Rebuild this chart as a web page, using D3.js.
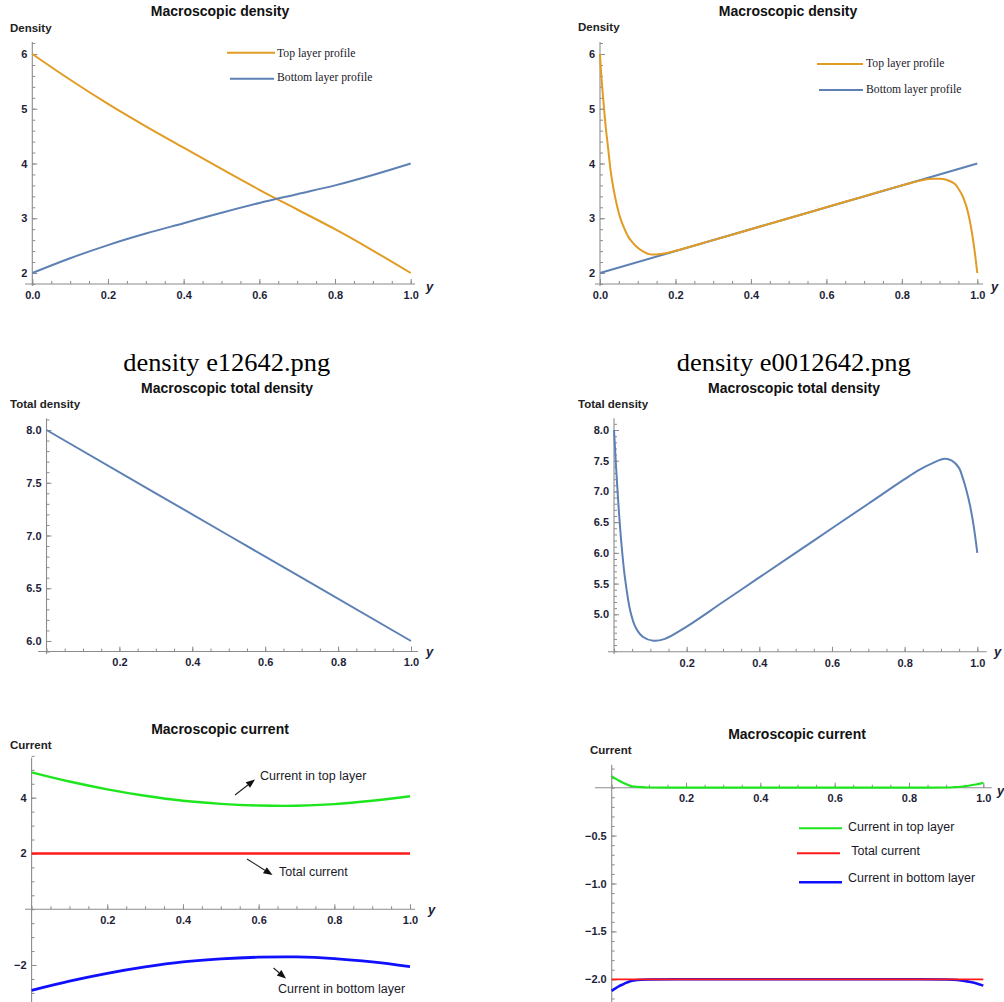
<!DOCTYPE html>
<html><head><meta charset="utf-8">
<script src="https://cdn.jsdelivr.net/npm/d3@7"></script>
<style>body{margin:0;background:#fff}svg{display:block}</style>
</head><body>
<svg id="c" width="1004" height="1002"></svg>
<script>
// ---------- DATA ----------
// Panel A: Macroscopic density (e12642)
const xDensityA = [0, 0.1, 0.2, 0.3, 0.4, 0.5, 0.6, 0.7, 0.8, 0.9, 1.0];
const topDensityA = [6.0, 5.53, 5.09, 4.68, 4.29, 3.90, 3.52, 3.16, 2.80, 2.41, 2.0];
const bottomDensityA = [2.0, 2.27, 2.51, 2.72, 2.91, 3.10, 3.28, 3.44, 3.60, 3.79, 4.0];

// Panel B: Macroscopic density (e0012642)
const xTopB = [0, 0.003, 0.0088, 0.015, 0.022, 0.028, 0.035, 0.044, 0.053, 0.064, 0.075, 0.086, 0.097, 0.115, 0.133, 0.16, 0.2, 0.3, 0.4, 0.5, 0.6, 0.7, 0.8, 0.85, 0.88, 0.9, 0.92, 0.94, 0.95, 0.96, 0.97, 0.98, 0.99, 1.0];
const topDensityB = [6.0, 5.65, 5.16, 4.68, 4.25, 3.88, 3.57, 3.26, 3.02, 2.82, 2.66, 2.56, 2.48, 2.39, 2.34, 2.345, 2.405, 2.6, 2.8, 3.0, 3.2, 3.4, 3.6, 3.69, 3.72, 3.72, 3.70, 3.63, 3.54, 3.42, 3.24, 2.96, 2.55, 2.0];
const xBottomB = [0, 0.5, 1.0];
const bottomDensityB = [2.0, 3.0, 4.0];

// Panel C: total density (e12642)
const xTotalA = [0, 0.5, 1.0];
const totalDensityA = [8.0, 7.0, 6.0];

// Panel D: total density (e0012642)
const xTotalB = [0, 0.01, 0.02, 0.03, 0.045, 0.06, 0.08, 0.108, 0.14, 0.2, 0.3, 0.4, 0.5, 0.6, 0.7, 0.8, 0.84, 0.88, 0.91, 0.93, 0.95, 0.96, 0.97, 0.98, 0.99, 1.0];
const totalDensityB = [8.0, 6.98, 6.18, 5.6, 5.05, 4.78, 4.63, 4.57, 4.6, 4.8, 5.2, 5.6, 6.0, 6.4, 6.8, 7.2, 7.35, 7.47, 7.53, 7.50, 7.38, 7.22, 7.02, 6.77, 6.44, 6.0];

// Panel E: currents (e12642)
const xCurrentA = [0, 0.1, 0.2, 0.3, 0.4, 0.5, 0.6, 0.7, 0.8, 0.9, 1.0];
const topCurrentA = [4.91, 4.58, 4.30, 4.07, 3.89, 3.78, 3.72, 3.71, 3.77, 3.89, 4.05];
const totalCurrentA = [2, 2, 2, 2, 2, 2, 2, 2, 2, 2, 2];
const bottomCurrentA = [-2.91, -2.58, -2.30, -2.07, -1.89, -1.78, -1.72, -1.71, -1.77, -1.89, -2.06];

// Panel F: currents (e0012642)
const xCurrentB = [0, 0.01, 0.02, 0.03, 0.04, 0.05, 0.06, 0.08, 0.1, 0.2, 0.5, 0.8, 0.9, 0.92, 0.94, 0.96, 0.98, 1.0];
const topCurrentB = [0.12, 0.095, 0.072, 0.053, 0.035, 0.02, 0.012, 0.005, 0.002, 0, 0, 0, 0.002, 0.005, 0.01, 0.02, 0.033, 0.05];
const totalCurrentB = [-2, -2, -2, -2, -2, -2, -2, -2, -2, -2, -2, -2, -2, -2, -2, -2, -2, -2];
const bottomCurrentB = [-2.12, -2.095, -2.072, -2.053, -2.035, -2.02, -2.012, -2.005, -2.002, -2, -2, -2, -2.002, -2.005, -2.012, -2.024, -2.04, -2.066];

// Tick values
const xMajorFull = [0, 0.2, 0.4, 0.6, 0.8, 1.0];
const xMajorNoZero = [0.2, 0.4, 0.6, 0.8, 1.0];
const yMajorDensity = [2, 3, 4, 5, 6];
const yMajorTotalA = [6.0, 6.5, 7.0, 7.5, 8.0];
const yMajorTotalB = [5.0, 5.5, 6.0, 6.5, 7.0, 7.5, 8.0];
const yMajorCurrentA = [-2, 2, 4];
const yMajorCurrentB = [-2.0, -1.5, -1.0, -0.5];

// Labels
const titles = ["Macroscopic density", "Macroscopic total density", "Macroscopic current"];
const fileNames = ["density e12642.png", "density e0012642.png"];
const yLabels = ["Density", "Total density", "Current"];
const densityLegend = ["Top layer profile", "Bottom layer profile"];
const currentLegend = ["Current in top layer", " Total current", "Current in bottom layer"];
const currentNotes = ["Current in top layer", "Total current", "Current in bottom layer"];

// ---------- DRAWING ----------
const svg = d3.select('#c');
const SANS = '"Liberation Sans", Arial, sans-serif';
const SERIF = '"Liberation Serif", "Times New Roman", serif';
const AXC = '#8c8c8c';
const LBL = '#1e1e38';
const ORANGE = '#e19c24', STEEL = '#5e81b5';
const GREEN = '#1ee61e', RED = '#ff1a1a', BLUE = '#1010ff';

const fmtMinus = f => v => (v < 0 ? '\u2212' : '') + d3.format(f)(Math.abs(v));
const stepRange = (a, b, s) => d3.range(Math.round(a / s), Math.round(b / s) + 1).map(i => +(i * s).toFixed(4));

function panel(p) {
  const g = svg.append('g');
  const x = d3.scaleLinear().domain([0, 1]).range(p.xr);
  const y = d3.scaleLinear().domain(p.yd).range(p.yr);
  const ay = y(p.xAxisAt);
  g.append('line').attr('x1', p.xLine[0]).attr('x2', p.xLine[1]).attr('y1', ay).attr('y2', ay)
    .attr('stroke', AXC).attr('stroke-width', 1.1);
  g.append('line').attr('x1', x(0)).attr('x2', x(0)).attr('y1', y(p.yTop)).attr('y2', p.yBottomPx)
    .attr('stroke', AXC).attr('stroke-width', 1.1);
  const style = sel => {
    sel.select('.domain').remove();
    sel.attr('font-family', SANS).attr('font-size', 11).attr('font-weight', 'bold');
    sel.selectAll('line').attr('stroke', AXC).attr('stroke-width', 1);
    sel.selectAll('text').attr('fill', LBL);
  };
  const xMinor = stepRange(0, 1, 0.05);
  g.append('g').attr('transform', `translate(0,${ay})`)
    .call(d3.axisBottom(x).tickValues(xMinor).tickSize(-3).tickFormat('')).call(style);
  g.append('g').attr('transform', `translate(0,${ay})`)
    .call(d3.axisBottom(x).tickValues(p.xMajor).tickSize(-5).tickPadding(7).tickFormat(d3.format('.1f'))).call(style);
  const yMinor = stepRange(p.minorRange[0], p.minorRange[1], p.minorStep);
  g.append('g').attr('transform', `translate(${x(0)},0)`)
    .call(d3.axisLeft(y).tickValues(yMinor).tickSize(-3).tickFormat('')).call(style);
  g.append('g').attr('transform', `translate(${x(0)},0)`)
    .call(d3.axisLeft(y).tickValues(p.yMajor).tickSize(-5).tickPadding(5).tickFormat(p.yFmt)).call(style);
  g.append('text').attr('x', p.yVar[0]).attr('y', p.yVar[1]).text('y')
    .attr('font-family', SANS).attr('font-size', 13).attr('font-weight', 'bold').attr('font-style', 'italic').attr('fill', LBL);
  g.append('text').attr('x', p.vLab[0]).attr('y', p.vLab[1]).text(p.vLabText)
    .attr('font-family', SANS).attr('font-size', 11.5).attr('font-weight', 'bold').attr('fill', '#222');
  g.append('text').attr('x', p.title[0]).attr('y', p.title[1]).text(p.titleText)
    .attr('text-anchor', 'middle').attr('font-family', SANS).attr('font-size', 14).attr('font-weight', 'bold').attr('fill', '#111');
  p.series.forEach(s => {
    const pts = s.xs.map((v, i) => [v, s.ys[i]]);
    g.append('path').datum(pts)
      .attr('d', d3.line().x(d => x(d[0])).y(d => y(d[1])).curve(d3.curveCatmullRom.alpha(0.5)))
      .attr('fill', 'none').attr('stroke', s.color).attr('stroke-width', s.w || 2)
      .attr('stroke-linejoin', 'round').attr('stroke-linecap', 'butt');
  });
  return { g, x, y };
}

function legendEntry(x1, x2, ly, color, w, tx, ty, text, font, size) {
  svg.append('line').attr('x1', x1).attr('x2', x2).attr('y1', ly).attr('y2', ly)
    .attr('stroke', color).attr('stroke-width', w);
  svg.append('text').attr('x', tx).attr('y', ty).text(text).attr('font-family', font)
    .attr('font-size', size).attr('fill', '#1a1a2a').attr('xml:space', 'preserve').style('white-space', 'pre');
}

function arrow(x1, y1, x2, y2) {
  const dx = x2 - x1, dy = y2 - y1, L = Math.hypot(dx, dy);
  const ux = dx / L, uy = dy / L, hl = 9, hw = 3.6;
  const bx = x2 - ux * hl, by = y2 - uy * hl;
  svg.append('line').attr('x1', x1).attr('y1', y1).attr('x2', bx).attr('y2', by)
    .attr('stroke', '#222').attr('stroke-width', 1.1);
  svg.append('path').attr('d', `M${x2},${y2}L${bx - uy * hw},${by + ux * hw}L${bx + uy * hw},${by - ux * hw}Z`)
    .attr('fill', '#111');
}

// Panel A
panel({
  xr: [32.3, 410.7], yd: [2, 6], yr: [273, 54], xAxisAt: 1.8, xLine: [25, 415], yTop: 6.22, yBottomPx: 286,
  xMajor: xMajorFull, yMajor: yMajorDensity, yFmt: d3.format('d'), minorRange: [1.8, 6.2], minorStep: 0.2,
  yVar: [426, 291], vLab: [10, 32], vLabText: yLabels[0], title: [220, 16], titleText: titles[0],
  series: [
    { xs: xDensityA, ys: topDensityA, color: ORANGE, w: 2 },
    { xs: xDensityA, ys: bottomDensityA, color: STEEL, w: 2 }
  ]
});
legendEntry(227, 275, 52.7, ORANGE, 2, 277, 56.7, densityLegend[0], SERIF, 11.7);
legendEntry(230, 274, 78.7, STEEL, 2, 277, 81, densityLegend[1], SERIF, 11.7);

// Panel B
panel({
  xr: [600, 977.3], yd: [2, 6], yr: [273, 54], xAxisAt: 1.8, xLine: [595, 983], yTop: 6.22, yBottomPx: 286,
  xMajor: xMajorFull, yMajor: yMajorDensity, yFmt: d3.format('d'), minorRange: [1.8, 6.2], minorStep: 0.2,
  yVar: [991, 291], vLab: [578, 31], vLabText: yLabels[0], title: [788, 16], titleText: titles[0],
  series: [
    { xs: xBottomB, ys: bottomDensityB, color: STEEL, w: 2 },
    { xs: xTopB, ys: topDensityB, color: ORANGE, w: 2 }
  ]
});
legendEntry(817, 863, 64, ORANGE, 2, 866, 66.5, densityLegend[0], SERIF, 11.7);
legendEntry(819, 863, 90, STEEL, 2, 866, 92.7, densityLegend[1], SERIF, 11.7);

// File-name captions
svg.append('text').attr('x', 226.7).attr('y', 371).text(fileNames[0]).attr('text-anchor', 'middle')
  .attr('font-family', SERIF).attr('font-size', 25.5).attr('fill', '#000').attr('textLength', 207).attr('lengthAdjust', 'spacingAndGlyphs');
svg.append('text').attr('x', 793.7).attr('y', 371).text(fileNames[1]).attr('text-anchor', 'middle')
  .attr('font-family', SERIF).attr('font-size', 26).attr('fill', '#000').attr('textLength', 234).attr('lengthAdjust', 'spacingAndGlyphs');

// Panel C
panel({
  xr: [46.5, 411], yd: [6, 8], yr: [641, 430], xAxisAt: 5.9, xLine: [38, 418], yTop: 8.11, yBottomPx: 654,
  xMajor: xMajorNoZero, yMajor: yMajorTotalA, yFmt: d3.format('.1f'), minorRange: [5.9, 8.1], minorStep: 0.1,
  yVar: [426, 656], vLab: [10, 408], vLabText: yLabels[1], title: [227, 393], titleText: titles[1],
  series: [{ xs: xTotalA, ys: totalDensityA, color: STEEL, w: 2 }]
});

// Panel D
panel({
  xr: [614, 977.3], yd: [5, 8], yr: [614.3, 430], xAxisAt: 4.39, xLine: [608, 986.7], yTop: 8.19, yBottomPx: 654,
  xMajor: xMajorNoZero, yMajor: yMajorTotalB, yFmt: d3.format('.1f'), minorRange: [4.4, 8.1], minorStep: 0.1,
  yVar: [994, 656], vLab: [578, 408], vLabText: yLabels[1], title: [794, 393], titleText: titles[1],
  series: [{ xs: xTotalB, ys: totalDensityB, color: STEEL, w: 2 }]
});

// Panel E
panel({
  xr: [31.6, 410], yd: [-2, 4], yr: [965, 797.7], xAxisAt: 0, xLine: [25, 415], yTop: 5.43, yBottomPx: 1002,
  xMajor: xMajorNoZero, yMajor: yMajorCurrentA, yFmt: fmtMinus('d'), minorRange: [-3.5, 5.5], minorStep: 0.5,
  yVar: [428, 914], vLab: [10, 749], vLabText: yLabels[2], title: [220, 734], titleText: titles[2],
  series: [
    { xs: xCurrentA, ys: topCurrentA, color: GREEN, w: 2.4 },
    { xs: xCurrentA, ys: totalCurrentA, color: RED, w: 2.4 },
    { xs: xCurrentA, ys: bottomCurrentA, color: BLUE, w: 2.8 }
  ]
});
arrow(235, 795, 255, 779.5);
arrow(247, 859, 272.5, 875);
arrow(273.5, 968, 286, 978.5);
[[260, 780, 0], [279, 875.5, 1], [278, 993, 2]].forEach(([tx, ty, i]) => {
  svg.append('text').attr('x', tx).attr('y', ty).text(currentNotes[i])
    .attr('font-family', SANS).attr('font-size', 12.5).attr('fill', '#1a1a2a');
});

// Panel F
panel({
  xr: [611.7, 983.3], yd: [-2, 0], yr: [979.3, 787.7], xAxisAt: 0, xLine: [595, 991.7], yTop: 0.24, yBottomPx: 1002,
  xMajor: xMajorNoZero, yMajor: yMajorCurrentB, yFmt: fmtMinus('.1f'), minorRange: [-2.2, 0.2], minorStep: 0.1,
  yVar: [997, 795], vLab: [590, 754], vLabText: yLabels[2], title: [797, 739], titleText: titles[2],
  series: [
    { xs: xCurrentB, ys: topCurrentB, color: GREEN, w: 2.2 },
    { xs: xCurrentB, ys: bottomCurrentB, color: BLUE, w: 2.6 },
    { xs: xCurrentB, ys: totalCurrentB, color: RED, w: 1.8 }
  ]
});
legendEntry(799, 842, 828.3, GREEN, 2, 848, 831, currentLegend[0], SANS, 12.5);
legendEntry(797, 840, 853.3, RED, 2, 848, 855, currentLegend[1], SANS, 12.5);
legendEntry(799, 842, 882.3, BLUE, 2.6, 848, 882, currentLegend[2], SANS, 12.5);
</script>
</body></html>
